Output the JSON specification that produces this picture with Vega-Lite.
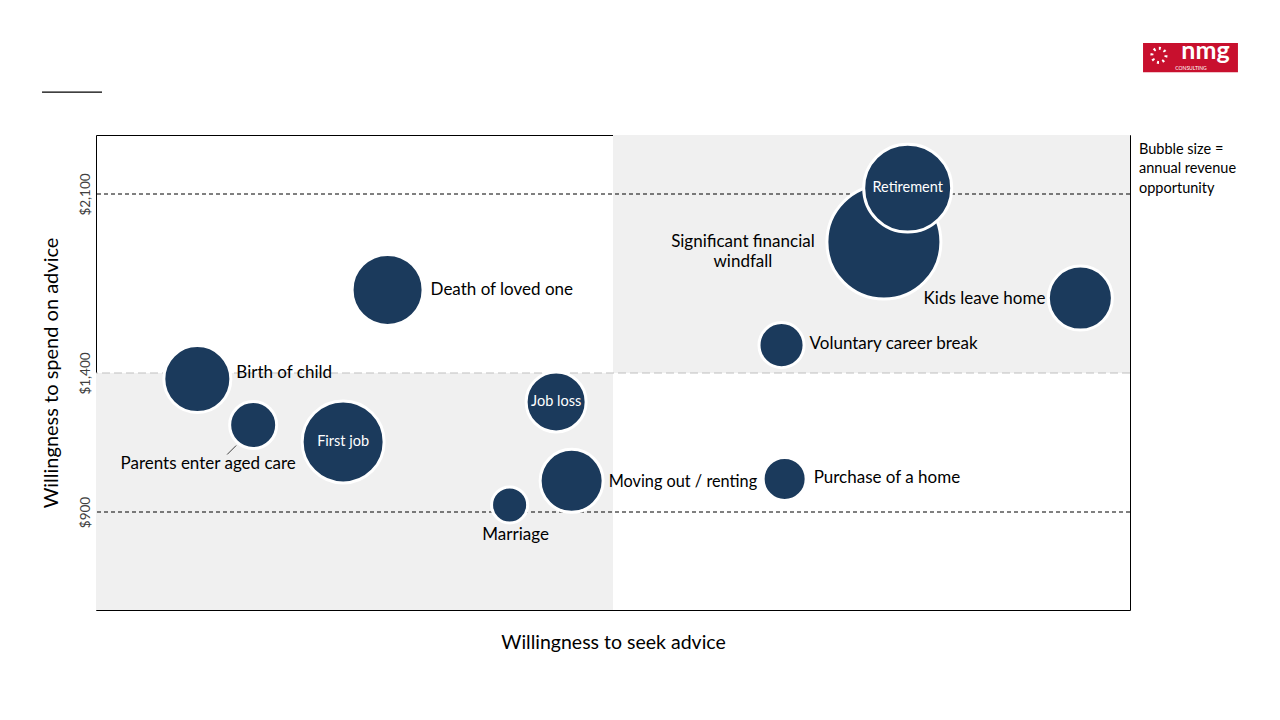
{
  "$schema": "https://vega.github.io/schema/vega-lite/v6.json",
  "width": 1034,
  "height": 475,
  "autosize": {"type": "none"},
  "padding": {"left": 96, "top": 135, "right": 150, "bottom": 110},
  "background": "white",
  "config": {
    "font": "Lato",
    "view": {"stroke": "black", "strokeWidth": 1}
  },
  "datasets": {
    "events": [
      {"name": "Significant financial windfall", "seek": 76.2, "spend": 1912, "revenue": 130},
      {"name": "Retirement", "seek": 78.5, "spend": 2123, "revenue": 77.4},
      {"name": "Kids leave home", "seek": 95.2, "spend": 1693, "revenue": 41},
      {"name": "Voluntary career break", "seek": 66.3, "spend": 1509, "revenue": 20.3},
      {"name": "Death of loved one", "seek": 28.2, "spend": 1725, "revenue": 50.4},
      {"name": "Birth of child", "seek": 9.8, "spend": 1378, "revenue": 44.9},
      {"name": "Parents enter aged care", "seek": 15.2, "spend": 1213, "revenue": 22.1},
      {"name": "First job", "seek": 23.9, "spend": 1152, "revenue": 67.2},
      {"name": "Job loss", "seek": 44.5, "spend": 1296, "revenue": 36},
      {"name": "Moving out / renting", "seek": 46.0, "spend": 1012, "revenue": 39.7},
      {"name": "Marriage", "seek": 40.0, "spend": 925, "revenue": 13},
      {"name": "Purchase of a home", "seek": 66.6, "spend": 1019, "revenue": 18.5}
    ]
  },
  "layer": [
    {
      "data": {"values": [{"quadrant": "high seek, high spend"}]},
      "mark": {"type": "rect", "fill": "#F0F0F0"},
      "encoding": {
        "x": {"datum": 50, "type": "quantitative"},
        "x2": {"datum": 100},
        "y": {"datum": 1400, "type": "quantitative"},
        "y2": {"datum": 2331}
      }
    },
    {
      "data": {"values": [{"quadrant": "low seek, low spend"}]},
      "mark": {"type": "rect", "fill": "#F0F0F0"},
      "encoding": {
        "x": {"datum": 0, "type": "quantitative"},
        "x2": {"datum": 50},
        "y": {"datum": 547.5, "type": "quantitative"},
        "y2": {"datum": 1400}
      }
    },
    {
      "data": {"values": [{"level": 900}, {"level": 2100}]},
      "mark": {"type": "rule", "color": "black", "strokeWidth": 1, "strokeDash": [4, 3]},
      "encoding": {
        "y": {"field": "level", "type": "quantitative"}
      }
    },
    {
      "data": {"values": [{"level": 1400}]},
      "mark": {"type": "rule", "color": "#BFBFBF", "strokeWidth": 1, "strokeDash": [8, 4]},
      "encoding": {
        "y": {"field": "level", "type": "quantitative"}
      }
    },
    {
      "data": {"name": "events"},
      "encoding": {
        "x": {
          "field": "seek", "type": "quantitative",
          "scale": {"domain": [0, 100], "nice": false, "zero": false},
          "axis": {"labels": false, "ticks": false, "domain": false, "grid": false,
            "title": "Willingness to seek advice", "titleFontSize": 19.5, "titleFontWeight": "normal",
            "titleColor": "black", "titlePadding": 23}
        },
        "y": {
          "field": "spend", "type": "quantitative",
          "scale": {"domain": [547.5, 900, 1400, 2100, 2331], "range": [475, 377, 238, 59, 0], "nice": false, "zero": false},
          "axis": {"values": [900, 1400, 2100], "format": "$,.0f", "labelAngle": -90, "labelFontSize": 13.5,
            "labelColor": "#404040", "labelPadding": 4, "ticks": false, "domain": false, "grid": false,
            "title": "Willingness to spend on advice", "titleFontSize": 20, "titleFontWeight": "normal",
            "titleColor": "black", "titlePadding": 17}
        }
      },
      "layer": [
        {
          "transform": [{"filter": "datum.name === 'Parents enter aged care'"}],
          "mark": {"type": "rule", "color": "#404040", "strokeWidth": 1, "xOffset": -26, "yOffset": 29.5, "x2Offset": -17, "y2Offset": 20.5},
          "encoding": {
            "x2": {"field": "seek"},
            "y2": {"field": "spend"}
          }
        },
        {
          "mark": {"type": "circle", "filled": true, "fill": "#1B3A5C", "opacity": 1, "stroke": "white", "strokeWidth": 3},
          "encoding": {
            "size": {"field": "revenue", "type": "quantitative", "scale": {"domain": [0, 130], "range": [0, 12996]}, "legend": null}
          }
        },
        {
          "transform": [{"filter": "datum.name === 'Retirement' || datum.name === 'Job loss' || datum.name === 'First job'"}],
          "mark": {"type": "text", "color": "white", "fontSize": 14.5, "align": "center", "baseline": "middle"},
          "encoding": {"text": {"field": "name"}}
        },
        {
          "transform": [{"filter": "datum.name === 'Significant financial windfall'"}],
          "mark": {"type": "text", "color": "black", "fontSize": 17, "align": "center", "baseline": "middle", "dx": -141, "lineHeight": 20},
          "encoding": {"text": {"value": ["Significant financial", "windfall"]}}
        },
        {
          "transform": [{"filter": "datum.name === 'Kids leave home'"}],
          "mark": {"type": "text", "color": "black", "fontSize": 17, "align": "right", "baseline": "middle", "dx": -35, "dy": 1},
          "encoding": {"text": {"field": "name"}}
        },
        {
          "transform": [{"filter": "datum.name === 'Voluntary career break'"}],
          "mark": {"type": "text", "color": "black", "fontSize": 17, "align": "left", "baseline": "middle", "dx": 28, "dy": -1},
          "encoding": {"text": {"field": "name"}}
        },
        {
          "transform": [{"filter": "datum.name === 'Death of loved one'"}],
          "mark": {"type": "text", "color": "black", "fontSize": 17, "align": "left", "baseline": "middle", "dx": 43},
          "encoding": {"text": {"field": "name"}}
        },
        {
          "transform": [{"filter": "datum.name === 'Birth of child'"}],
          "mark": {"type": "text", "color": "black", "fontSize": 17, "align": "left", "baseline": "middle", "dx": 39, "dy": -6},
          "encoding": {"text": {"field": "name"}}
        },
        {
          "transform": [{"filter": "datum.name === 'Parents enter aged care'"}],
          "mark": {"type": "text", "color": "black", "fontSize": 17, "align": "center", "baseline": "middle", "dx": -45, "dy": 39},
          "encoding": {"text": {"field": "name"}}
        },
        {
          "transform": [{"filter": "datum.name === 'Moving out / renting'"}],
          "mark": {"type": "text", "color": "black", "fontSize": 16.3, "align": "left", "baseline": "middle", "dx": 37, "dy": 1},
          "encoding": {"text": {"field": "name"}}
        },
        {
          "transform": [{"filter": "datum.name === 'Marriage'"}],
          "mark": {"type": "text", "color": "black", "fontSize": 17, "align": "center", "baseline": "middle", "dx": 6, "dy": 30},
          "encoding": {"text": {"field": "name"}}
        },
        {
          "transform": [{"filter": "datum.name === 'Purchase of a home'"}],
          "mark": {"type": "text", "color": "black", "fontSize": 17, "align": "left", "baseline": "middle", "dx": 29, "dy": -1},
          "encoding": {"text": {"field": "name"}}
        }
      ]
    },
    {
      "data": {"values": [{"note": "Bubble size = annual revenue opportunity"}]},
      "mark": {"type": "text", "color": "black", "fontSize": 14.5, "align": "left", "baseline": "top", "dx": 9, "lineHeight": 19.5},
      "encoding": {
        "x": {"datum": 100, "type": "quantitative"},
        "y": {"datum": 2300, "type": "quantitative"},
        "text": {"value": ["Bubble size =", "annual revenue", "opportunity"]}
      }
    },
    {
      "data": {"values": [{"item": "header rule"}]},
      "mark": {"type": "rule", "color": "black", "strokeWidth": 1.2},
      "encoding": {
        "x": {"datum": -5.22, "type": "quantitative"},
        "x2": {"datum": 0.58},
        "y": {"datum": 2499, "type": "quantitative"}
      }
    },
    {
      "data": {"values": [{"item": "logo"}]},
      "mark": {"type": "rect", "fill": "#C8102E"},
      "encoding": {
        "x": {"datum": 101.26, "type": "quantitative"},
        "x2": {"datum": 110.44},
        "y": {"datum": 2577, "type": "quantitative"},
        "y2": {"datum": 2691}
      }
    },
    {
      "data": {"values": [{"item": "logo mark"}]},
      "mark": {"type": "point", "shape": "circle", "filled": false, "stroke": "white", "strokeWidth": 3, "strokeDash": [2, 3.5], "size": 200, "opacity": 1},
      "encoding": {
        "x": {"datum": 102.8, "type": "quantitative"},
        "y": {"datum": 2643, "type": "quantitative"}
      }
    },
    {
      "data": {"values": [{"item": "logo text"}]},
      "mark": {"type": "text", "color": "white", "fontSize": 25, "fontWeight": "bold", "align": "center", "baseline": "alphabetic"},
      "encoding": {
        "x": {"datum": 107.3, "type": "quantitative"},
        "y": {"datum": 2630, "type": "quantitative"},
        "text": {"value": "nmg"}
      }
    },
    {
      "data": {"values": [{"item": "logo subtitle"}]},
      "mark": {"type": "text", "color": "white", "fontSize": 5, "align": "center", "baseline": "middle"},
      "encoding": {
        "x": {"datum": 105.9, "type": "quantitative"},
        "y": {"datum": 2595, "type": "quantitative"},
        "text": {"value": "CONSULTING"}
      }
    }
  ]
}
